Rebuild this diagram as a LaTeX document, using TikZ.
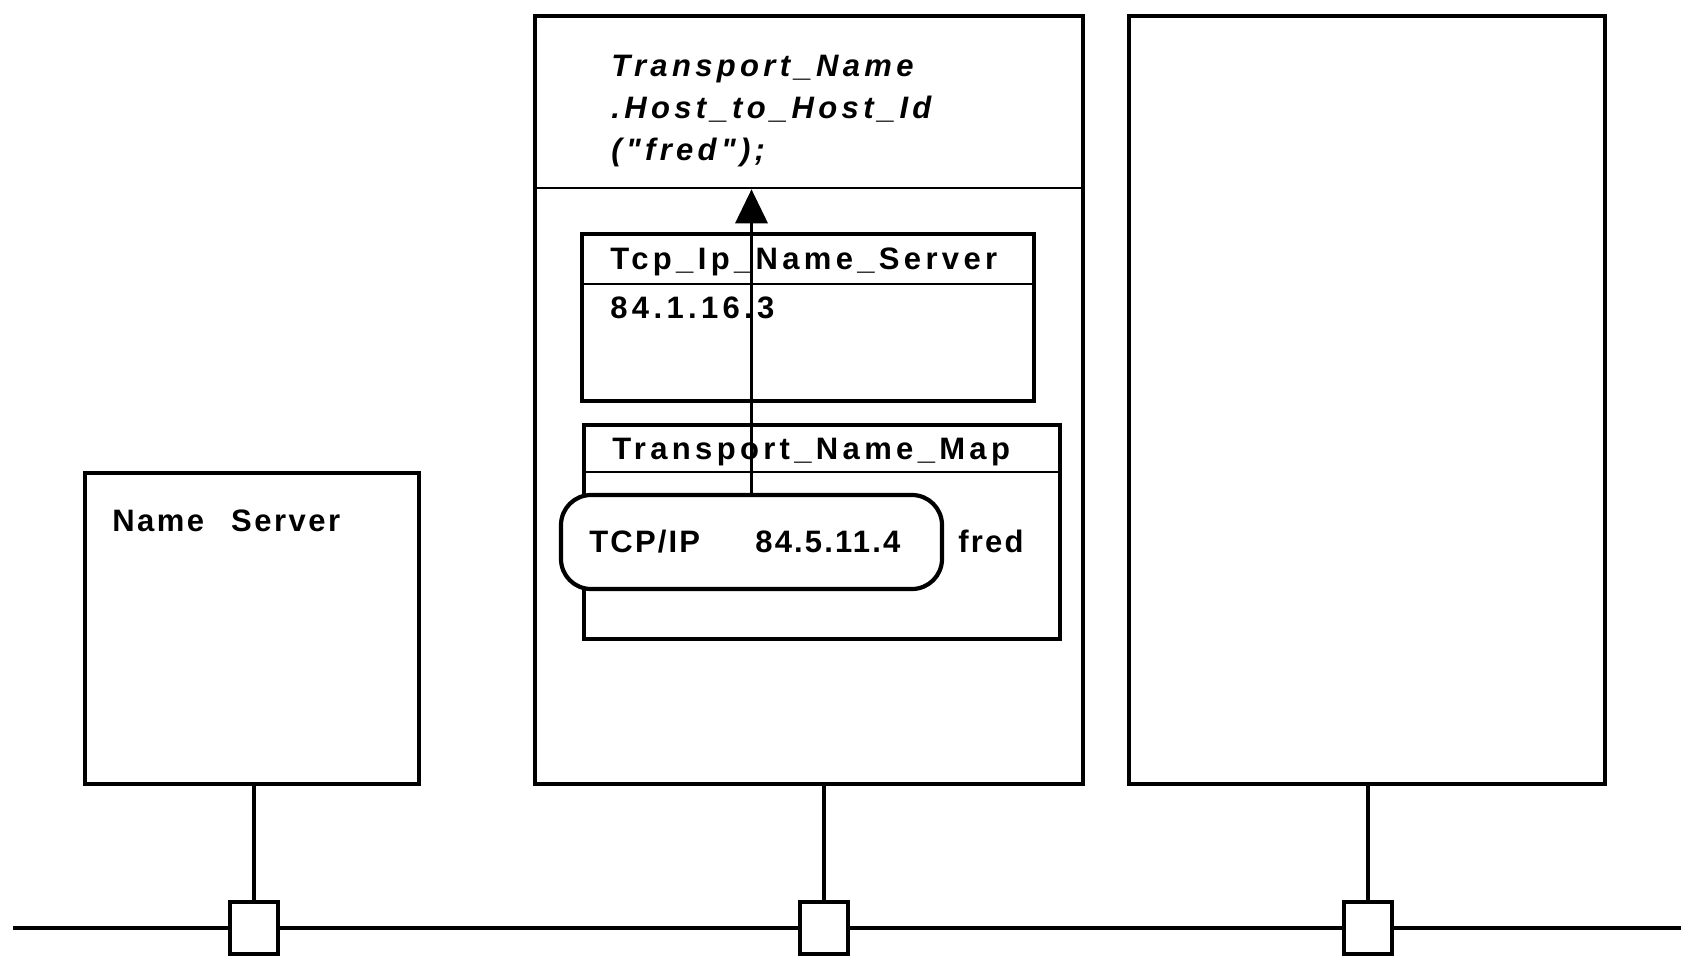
\documentclass[tikz,border=0pt]{standalone}
\usepackage{fontspec}
\setmainfont{Liberation Sans}
\newfontfamily\trackwide[LetterSpace=14]{Liberation Sans}
\newfontfamily\trackmid[LetterSpace=8]{Liberation Sans}
\newfontfamily\tracknarrow[LetterSpace=7]{Liberation Sans}
\usetikzlibrary{arrows.meta,fit}

\begin{document}
\begin{tikzpicture}[x=0.5pt, y=-0.5pt,
  frame/.style={draw, line width=2.1pt, inner sep=0pt},
  table/.style={draw, line width=2.3pt, inner sep=0pt},
  divider/.style={line width=1.3pt},
  tag/.style={font=\trackwide\bfseries\fontsize{15.5}{18}\selectfont, inner sep=0pt, anchor=base west},
  callname/.style={font=\trackwide\bfseries\itshape\fontsize{15.5}{18}\selectfont, inner sep=0pt, anchor=base west},
  entry/.style={font=\tracknarrow\bfseries\fontsize{15.5}{18}\selectfont, inner sep=0pt, anchor=base west},
  tap/.style={draw, fill=white, line width=2.2pt, minimum width=24pt, minimum height=26pt, inner sep=0pt},
  wire/.style={line width=1.7pt},
  bus/.style={line width=2.4pt}]

\useasboundingbox (0,0) rectangle (1681,958);

% the three hosts
\node[frame, fit={(85,473) (419,784)}] (ns) {};
\node[frame, fit={(535,16) (1083,784)}] (host) {};
\node[frame, fit={(1129,16) (1605,784)}] (other) {};
\node[tag, font=\trackmid\bfseries\fontsize{15.5}{18}\selectfont] (nsname) at (112,531) {Name\hspace{13.5pt}Server};

% top compartment of the middle host: the call
\node[draw, divider, inner sep=0pt, fit={(535,16) (1083,188)}] (call) {};
\node[callname] (callA) at (611,76) {Transport\_Name};
\node[callname] (callB) at (611,118) {.Host\_to\_Host\_Id};
\node[callname] (callC) at (611,160) {("fred");};

% name server table
\node[table, fit={(582,234) (1034,401)}] (tcp) {};
\draw[divider] (tcp.west |- 0,284) -- (tcp.east |- 0,284);
\node[tag] (tcphead) at (610,269) {Tcp\_Ip\_Name\_Server};
\node[tag] (tcpaddr) at (610,318) {84.1.16.3};

% transport name map
\node[table, fit={(584,425) (1060,639)}] (map) {};
\draw[divider] (map.west |- 0,472) -- (map.east |- 0,472);
\node[tag] (maphead) at (612,459) {Transport\_Name\_Map};

% the record found for fred
\node[draw, fill=white, line width=2.1pt, rounded corners=15pt, inner sep=0pt,
      fit={(561,495) (942,589)}] (rec) {};
\node[entry] (proto) at (589,552) {TCP/IP};
\node[entry] (addr) at (755,552) {84.5.11.4};
\node[entry] (fred) at (958,552) {fred};

% the result goes back up to the call
\draw[wire, -{Triangle[length=17pt, width=16pt]}] (rec.north) -- (rec.north |- call.south);

% network
\draw[bus] (13,928) -- (1681,928);
\node[tap] (tapA) at (254,928) {};
\node[tap] (tapB) at (824,928) {};
\node[tap] (tapC) at (1368,928) {};
\draw[wire] (tapA.north) -- (tapA.north |- ns.south);
\draw[wire] (tapB.north) -- (tapB.north |- host.south);
\draw[wire] (tapC.north) -- (tapC.north |- other.south);

\end{tikzpicture}
\end{document}
